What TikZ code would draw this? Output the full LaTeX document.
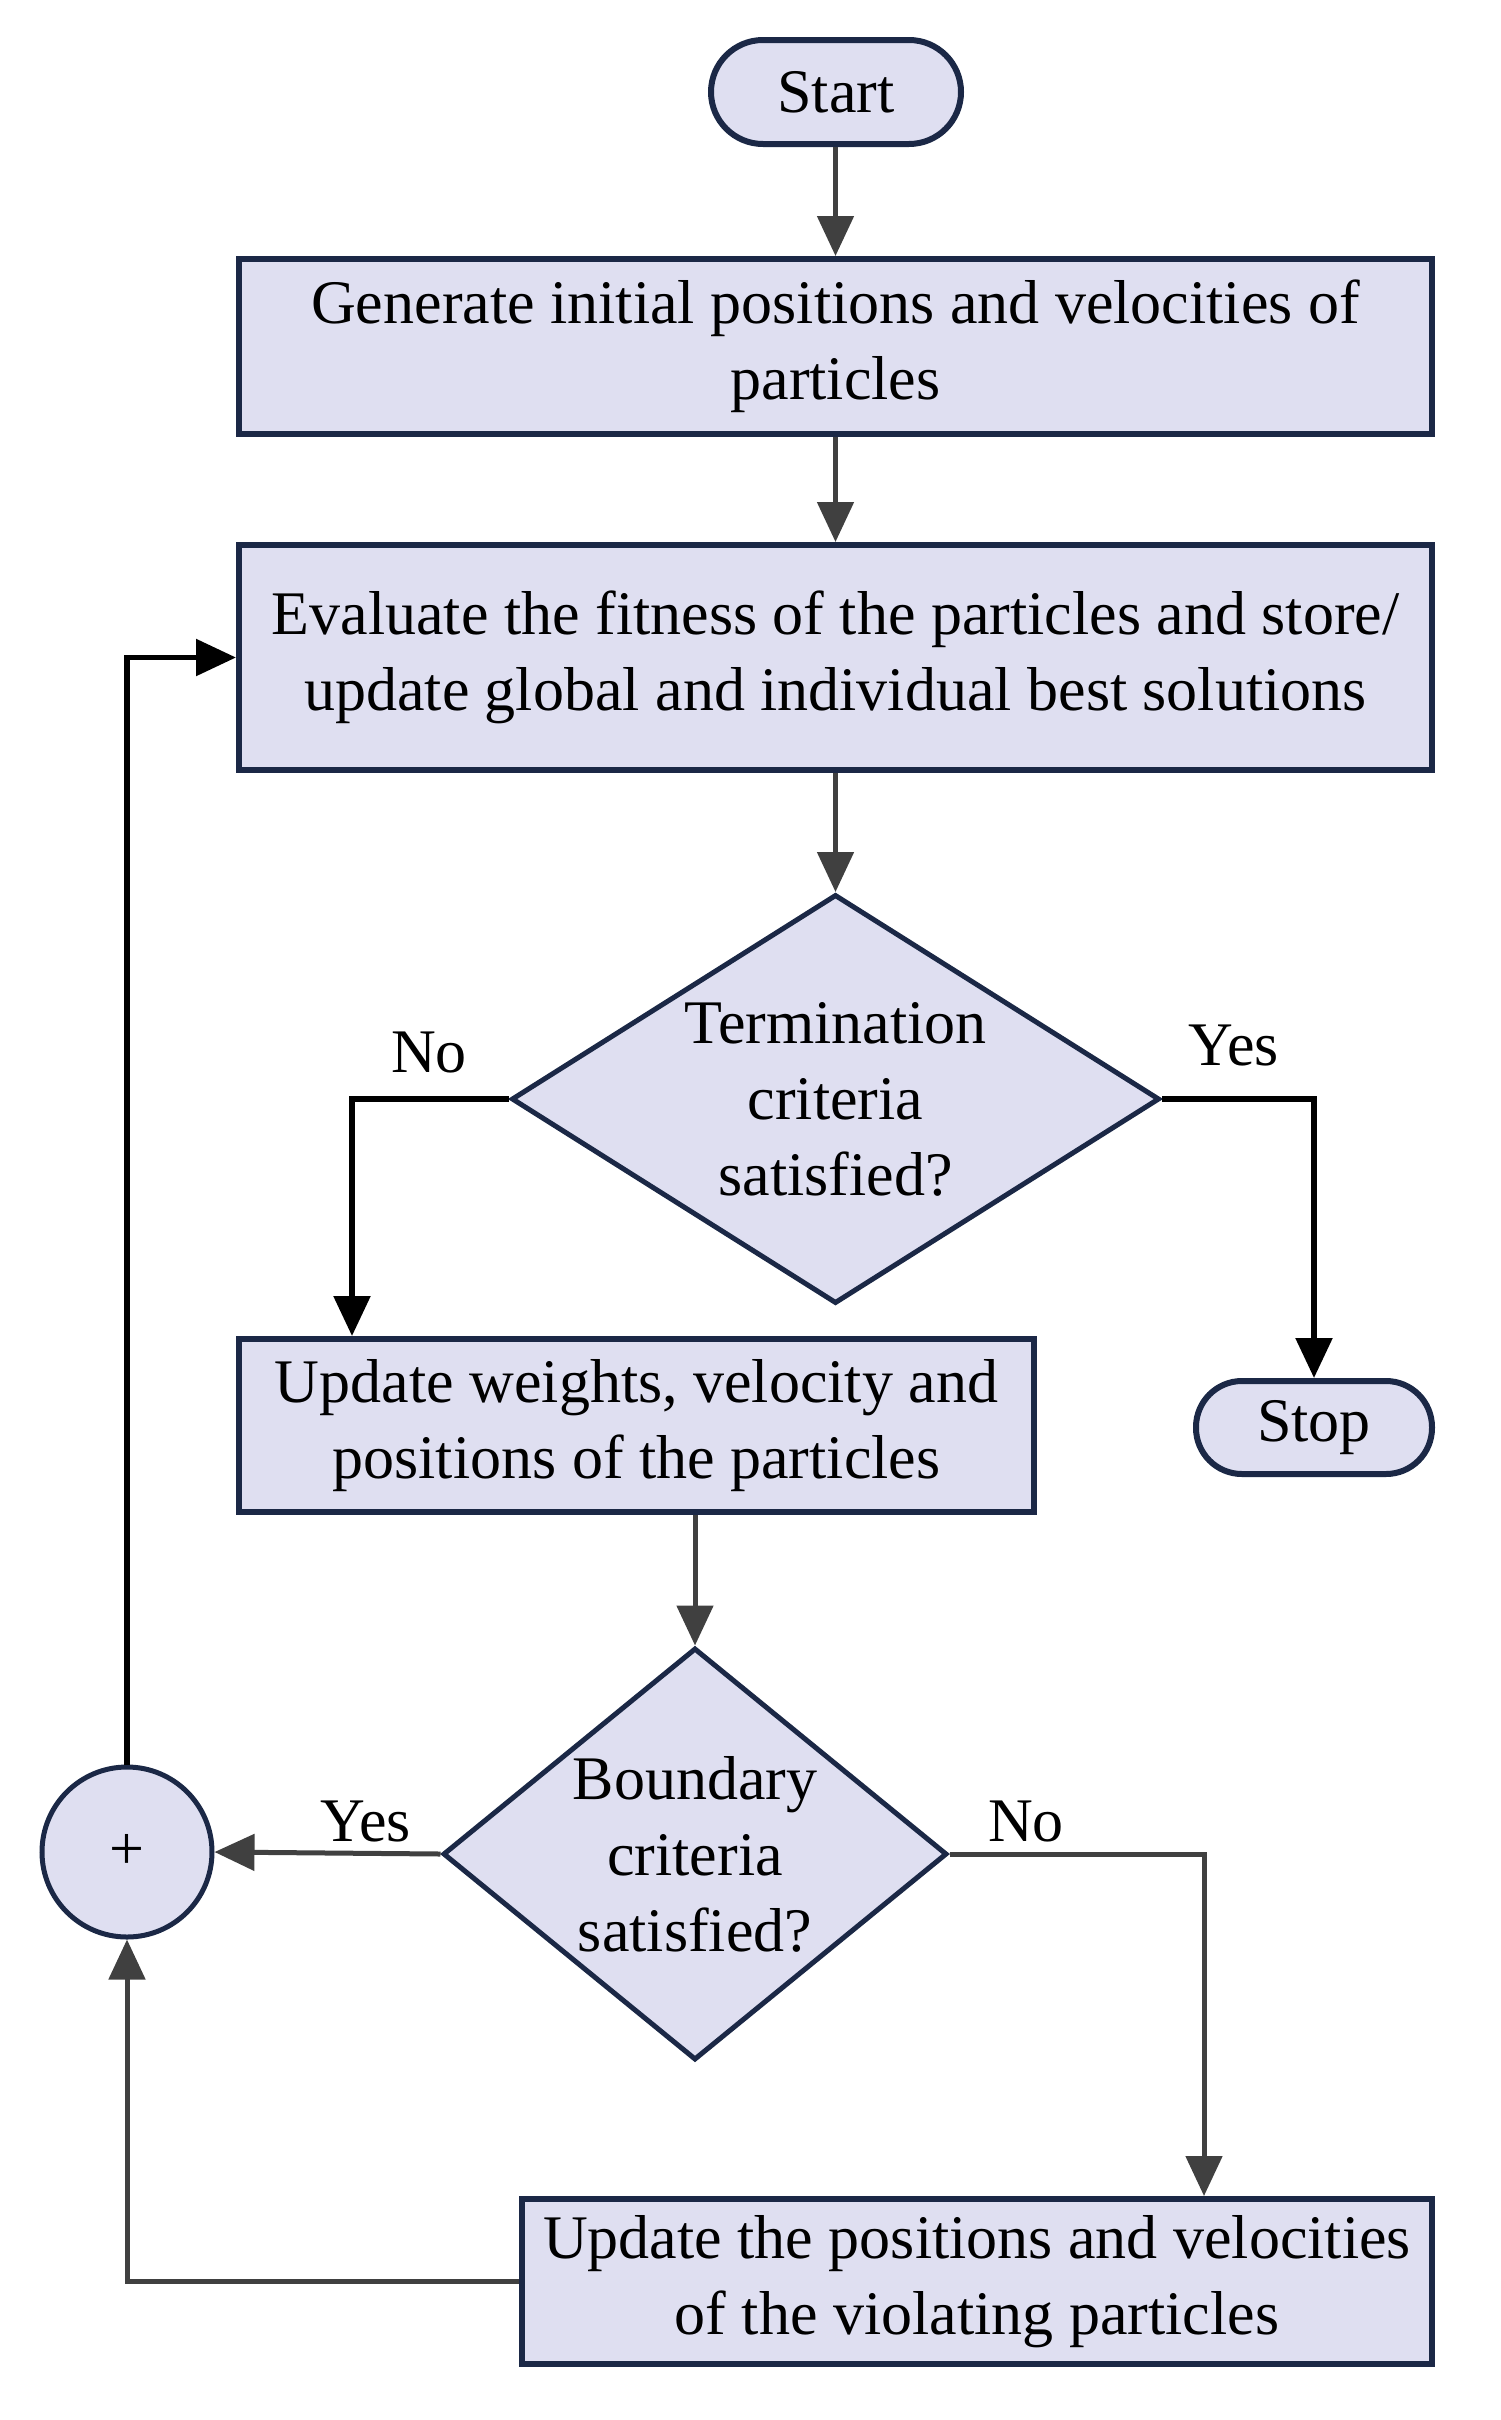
\documentclass[tikz,border=0pt]{standalone}
\usepackage{fontspec}
\setmainfont{Liberation Serif}
\usetikzlibrary{shapes.geometric,arrows.meta,calc}
\definecolor{boxfill}{HTML}{DFDFF1}
\definecolor{boxline}{HTML}{1B2846}
\definecolor{arrgray}{HTML}{404040}
\begin{document}
\begin{tikzpicture}[x=1pt,y=-1pt,
  every node/.style={font=\fontsize{62}{76}\selectfont},
  procbox/.style={draw=boxline,line width=6pt,fill=boxfill,rectangle,align=center,inner sep=4pt},
  termbox/.style={draw=boxline,line width=6pt,fill=boxfill,rectangle,align=center,inner sep=0pt},
  decbox/.style={draw=boxline,line width=5pt,fill=boxfill,diamond,inner sep=0pt},
  dectext/.style={align=center,inner sep=0pt},
  sumbox/.style={draw=boxline,line width=5pt,fill=boxfill,circle,inner sep=0pt,minimum size=170pt,font=\fontsize{62}{62}\selectfont},
  flow/.style={draw=arrgray,line width=5pt,-{Triangle[length=40pt,width=36pt]}},
  flowk/.style={draw=black,line width=5.5pt,-{Triangle[length=40pt,width=36pt]}},
  lbl/.style={inner sep=0pt}
]
\useasboundingbox (0,0) rectangle (1500,2420);

\node[termbox,minimum width=250pt,minimum height=104pt,rounded corners=52pt] (start) at (836,92) {Start};
\node[procbox,minimum width=1193pt,minimum height=175pt] (gen) at (835.5,346.5) {Generate initial positions and velocities of\\particles};
\node[procbox,minimum width=1193pt,minimum height=225pt] (eval) at (835.5,657.5) {Evaluate the fitness of the particles and store/\\update global and individual best solutions};
\node[decbox,minimum width=648pt,minimum height=409pt] (term) at (835.5,1099) {};
\node[dectext] (termtxt) at (term.center) {Termination\\criteria\\satisfied?};
\node[procbox,minimum width=795pt,minimum height=173pt] (upd) at (636.5,1425.5) {Update weights, velocity and\\positions of the particles};
\node[termbox,minimum width=236pt,minimum height=93pt,rounded corners=46pt] (stop) at (1314,1427.5) {Stop};
\node[decbox,minimum width=504pt,minimum height=412pt] (bnd) at (695,1854) {};
\node[dectext] (bndtxt) at (bnd.center) {Boundary\\criteria\\satisfied?};
\node[sumbox] (sum) at (127,1852) {+};
\node[procbox,minimum width=910pt,minimum height=165pt] (viol) at (977,2281.5) {Update the positions and velocities\\of the violating particles};

\node[lbl] (lno1) at (429,1052) {No};
\node[lbl] (lyes1) at (1234,1045) {Yes};
\node[lbl] (lyes2) at (366,1821) {Yes};
\node[lbl] (lno2) at (1026,1821) {No};

\coordinate (updin) at ([xshift=116pt]upd.north west);
\coordinate (violin) at ([xshift=685pt]viol.north west);

\draw[flow] (start.south -| gen.north) -- (gen.north);
\draw[flow] (gen.south) -- (eval.north);
\draw[flow] (eval.south) -- (term.north);
\draw[flowk] (term.west) -| (updin);
\draw[flowk] (term.east) -| (stop.north);
\draw[flow] (upd.south -| bnd.north) -- (bnd.north);
\draw[flow] (bnd.west) -- (sum.east);
\draw[flow] (bnd.east) -| (violin);
\draw[flow] (viol.west) -| (sum.south);
\draw[flowk] (sum.north) |- (eval.west);
\end{tikzpicture}
\end{document}
